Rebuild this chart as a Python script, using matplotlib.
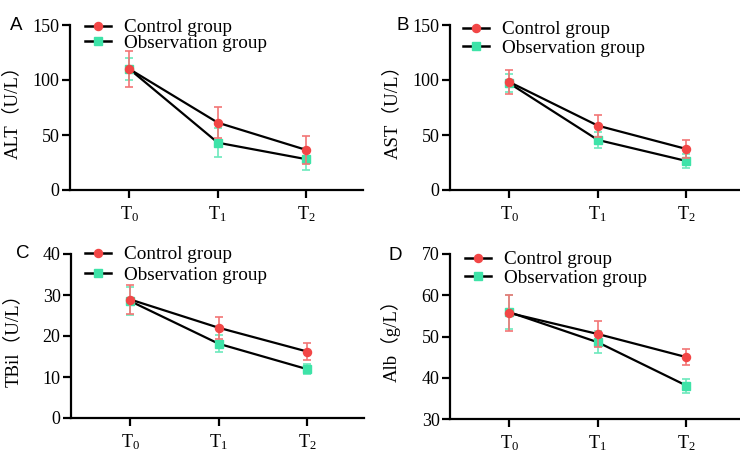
import matplotlib
matplotlib.use("Agg")
import matplotlib.pyplot as plt
from matplotlib.lines import Line2D

plt.rcParams['font.family'] = ['Liberation Serif', 'Noto Sans CJK SC']
plt.rcParams['mathtext.fontset'] = 'custom'
plt.rcParams['mathtext.rm'] = 'Liberation Serif'
plt.rcParams['mathtext.it'] = 'Liberation Serif:italic'

# ---- data ----
time_labels = ['$\\mathrm{T}_{0}$', '$\\mathrm{T}_{1}$', '$\\mathrm{T}_{2}$']
group_names = ['Control group', 'Observation group']

alt_control = [110.0, 61.2, 36.4]
alt_control_sd = [16.7, 14.0, 12.7]
alt_obs = [110.0, 43.0, 28.0]
alt_obs_sd = [10.0, 13.0, 10.0]

ast_control = [98.2, 58.5, 37.3]
ast_control_sd = [10.6, 10.0, 8.3]
ast_obs = [97.0, 45.5, 26.4]
ast_obs_sd = [8.0, 7.5, 6.7]

tbil_control = [28.9, 22.0, 16.2]
tbil_control_sd = [3.5, 2.7, 2.0]
tbil_obs = [28.5, 18.1, 11.9]
tbil_obs_sd = [3.4, 2.1, 1.2]

alb_control = [55.7, 50.6, 45.0]
alb_control_sd = [4.3, 3.2, 2.0]
alb_obs = [55.9, 48.6, 38.1]
alb_obs_sd = [4.2, 2.7, 1.7]

ylabels = ['ALT（U/L）', 'AST（U/L）', 'TBil（U/L）', 'Alb（g/L）']
panel_letters = ['A', 'B', 'C', 'D']
yticks_list = [[0, 50, 100, 150], [0, 50, 100, 150], [0, 10, 20, 30, 40], [30, 40, 50, 60, 70]]

RED = '#F24646'
RED_E = '#F27676'
GREEN = '#3EE3A8'
GREEN_E = '#6CE9BC'

W, H = 740, 451
fig = plt.figure(figsize=(W / 100, H / 100), dpi=100)


def px_axes(left, top, right, bottom):
    return fig.add_axes([left / W, 1 - bottom / H, (right - left) / W, (bottom - top) / H])


axes_px = [(70, 25, 363, 190), (450, 25, 743, 190), (71, 254, 364, 418), (450, 254, 743, 419)]
legend_px = [(85, 19, -0.11), (463, 21, 0.05), (85, 246, 0.17), (465, 251, 0.05)]
letter_px = [(10, 30), (397, 30), (16, 258), (388, 260)]

data = [
    (alt_control, alt_control_sd, alt_obs, alt_obs_sd),
    (ast_control, ast_control_sd, ast_obs, ast_obs_sd),
    (tbil_control, tbil_control_sd, tbil_obs, tbil_obs_sd),
    (alb_control, alb_control_sd, alb_obs, alb_obs_sd),
]

x = [0, 1, 2]
for i in range(4):
    ax = px_axes(*axes_px[i])
    c, csd, o, osd = data[i]
    ax.errorbar(x, o, yerr=osd, color='black', lw=1.6, marker='s', ms=5.2,
                mfc=GREEN, mec=GREEN, ecolor=GREEN_E, elinewidth=1.2, capsize=3.2, capthick=1.2,
                zorder=3)
    ax.errorbar(x, c, yerr=csd, color='black', lw=1.6, marker='o', ms=5.8,
                mfc=RED, mec=RED, ecolor=RED_E, elinewidth=1.2, capsize=3.2, capthick=1.2,
                zorder=4)
    yt = yticks_list[i]
    ax.set_ylim(yt[0], yt[-1])
    ax.set_yticks(yt)
    ax.set_xlim(-0.67, 2.64)
    ax.set_xticks(x)
    ax.set_xticklabels(time_labels)
    for s in ['top', 'right']:
        ax.spines[s].set_visible(False)
    for s in ['left', 'bottom']:
        ax.spines[s].set_linewidth(1.6)
    ax.tick_params(axis='both', length=6, width=1.6, labelsize=13)
    ax.tick_params(axis='y', pad=1.5)
    ax.tick_params(axis='x', pad=4.5)
    ax.set_ylabel(ylabels[i], fontsize=13.5)
    ax.yaxis.set_label_coords(-0.168, 0.5)

    handles = [
        Line2D([], [], color='black', lw=1.8, marker='o', ms=5.8, mfc=RED, mec=RED),
        Line2D([], [], color='black', lw=1.8, marker='s', ms=5.2, mfc=GREEN, mec=GREEN),
    ]
    lx, ly, ls = legend_px[i]
    fig.legend(handles, group_names, loc='upper left',
               bbox_to_anchor=(lx / W, 1 - ly / H), bbox_transform=fig.transFigure,
               frameon=False, fontsize=13.8, borderpad=0, borderaxespad=0,
               handlelength=1.35, handletextpad=0.7, labelspacing=ls)

    fx, fy = letter_px[i]
    fig.text(fx / W, 1 - fy / H, panel_letters[i], family='Liberation Sans', fontsize=13.5,
             va='baseline', ha='left')

fig.savefig('out.png', dpi=100)
